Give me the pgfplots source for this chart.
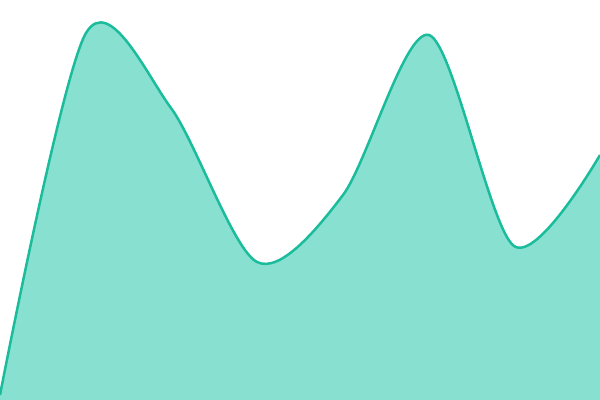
\documentclass[border=0pt]{standalone}
\usepackage{pgfplots}
\pgfplotsset{compat=1.18}
\definecolor{areafill}{HTML}{88E0D0}
\definecolor{arealine}{HTML}{1ABC9C}
% values in pixel units (0 = bottom of the chart, 400 = top)
\pgfplotstableread{
x y
0 5
86 367
171 292
257 138
343 205
429 365
514 154
600 245
}\datatable
\begin{document}
\begin{tikzpicture}
\begin{axis}[
  width=6in, height=4in, scale only axis,
  hide axis,
  xmin=0, xmax=600, ymin=0, ymax=400,
  clip=true,
]
\addplot[fill=areafill, draw=none, smooth, tension=0.5] table {\datatable} \closedcycle;
\addplot[draw=arealine, line width=1.8pt, smooth, tension=0.5] table {\datatable};
\end{axis}
\end{tikzpicture}
\end{document}
